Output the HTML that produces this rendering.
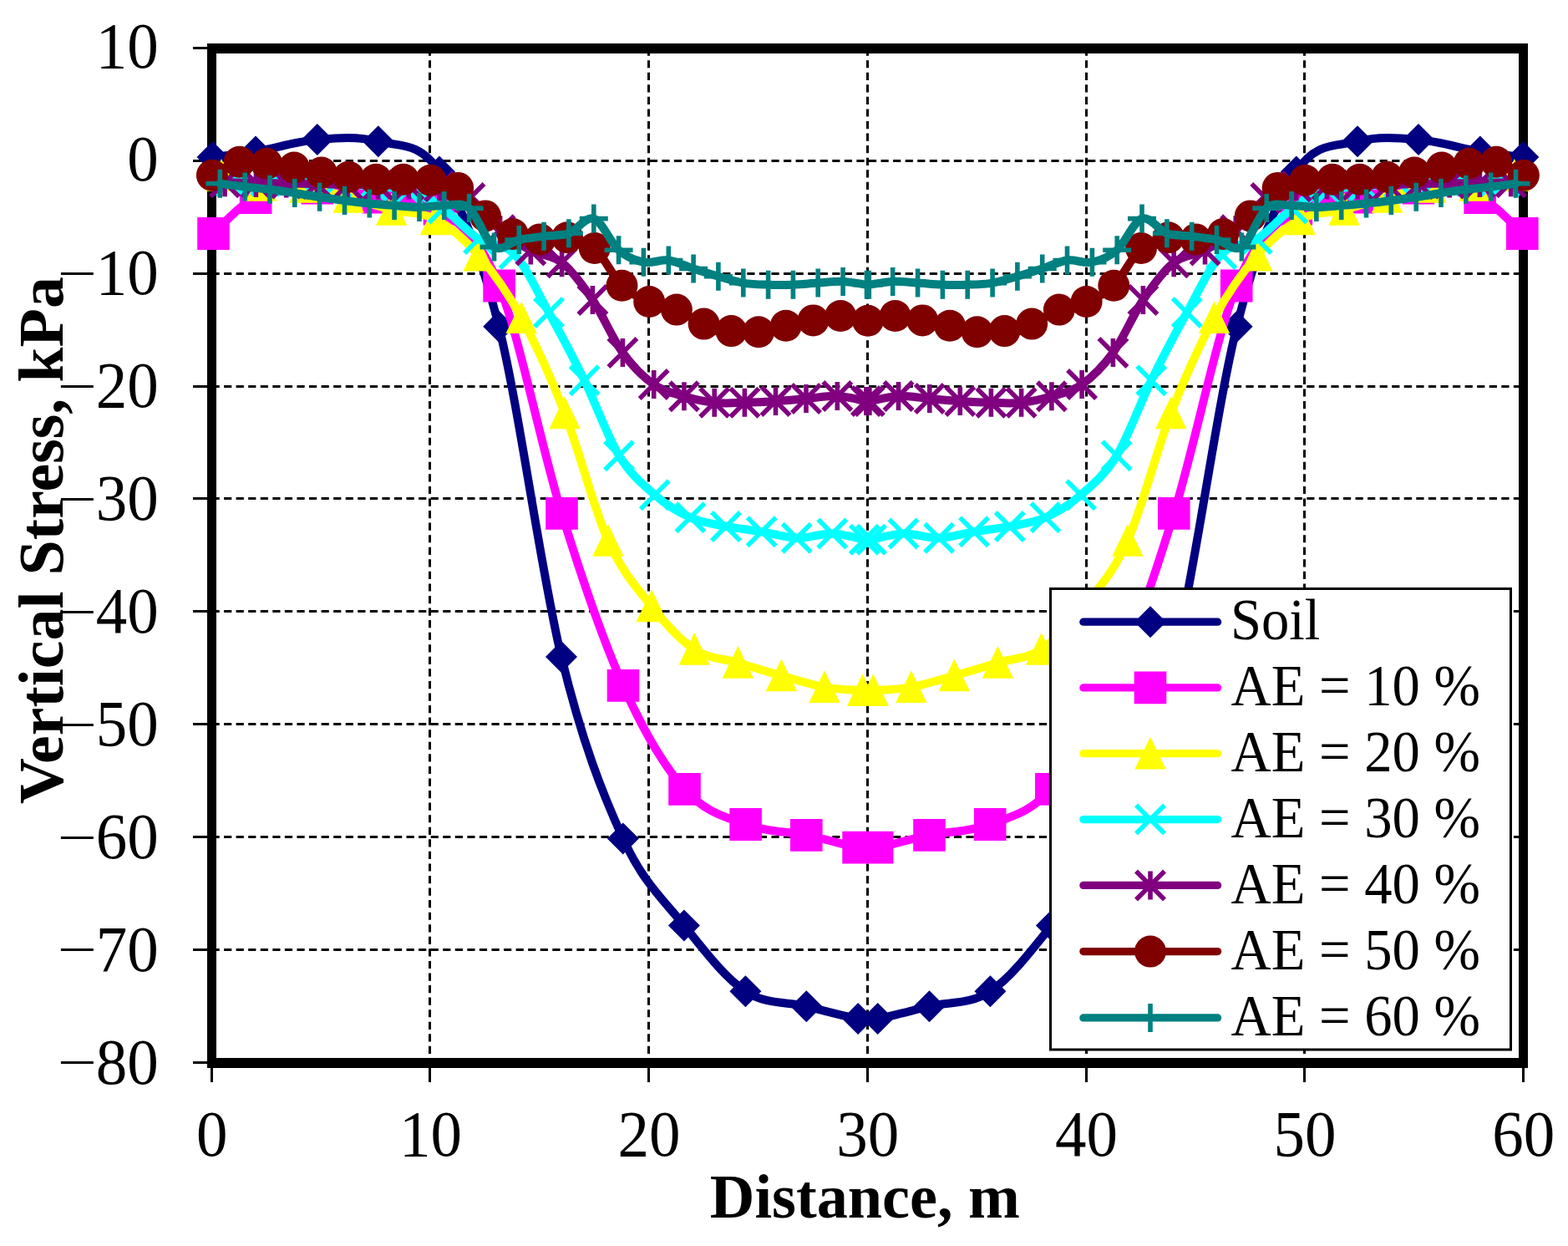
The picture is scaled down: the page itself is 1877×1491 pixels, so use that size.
<!DOCTYPE html>
<html lang="en"><head><meta charset="utf-8"><title>Vertical Stress vs Distance</title>
<style>html,body{margin:0;padding:0;background:#fff}body{width:1877px;height:1491px;overflow:hidden}svg{display:block}text{font-family:"Liberation Serif",serif;fill:#000}.t{font-size:75px}.b{font-size:75px;font-weight:bold}.l{font-size:69px}</style></head><body>
<svg width="1877" height="1491" viewBox="0 0 1877 1491" role="img" aria-label="Vertical stress versus distance chart">
<rect width="1877" height="1491" fill="#fff"/>
<path d="M514.5 57.6 V1272M776.5 57.6 V1272M1038.5 57.6 V1272M1300.5 57.6 V1272M1561.5 57.6 V1272M253.5 192.5 H1823.5M253.5 327.5 H1823.5M253.5 462.5 H1823.5M253.5 596.5 H1823.5M253.5 731.5 H1823.5M253.5 866.5 H1823.5M253.5 1001.5 H1823.5M253.5 1136.5 H1823.5" fill="none" stroke="#000" stroke-width="3" stroke-dasharray="9.2 5.364"/>
<path d="M253.5 1272 V1295M514.5 1272 V1295M776.5 1272 V1295M1038.5 1272 V1295M1300.5 1272 V1295M1561.5 1272 V1295M1823.5 1272 V1295M231 57.5 H253.5M231 192.5 H253.5M231 327.5 H253.5M231 462.5 H253.5M231 596.5 H253.5M231 731.5 H253.5M231 866.5 H253.5M231 1001.5 H253.5M231 1136.5 H253.5M231 1271.5 H253.5" fill="none" stroke="#000" stroke-width="3"/>
<path d="M248 52H1829V1278H248Z M259 64V1266H1818V64Z" fill="#000" fill-rule="evenodd"/>
<g fill="#000080" stroke="#000080">
<path d="M254.5 188C263.1 186.9 285.1 185 306 181.5C326.9 178 355.3 169.1 379.8 167C404.3 164.9 428.4 162.8 452.8 169.2C477.2 175.6 501.9 168.6 526 205.5C550.1 242.4 572.9 294.1 597.2 390.8C621.5 487.5 647.2 683.8 672 785.9C696.8 888 721.3 949.8 745.8 1003.4C770.3 1057 794.5 1076.9 818.9 1107.4C843.3 1137.9 868 1170.2 892.4 1186.3C916.8 1202.4 942.8 1198.7 965.3 1204.2C987.8 1209.7 1012.9 1216.6 1027.1 1219.1C1041.3 1221.6 1036.5 1221.6 1050.7 1219.1C1064.9 1216.6 1090.1 1209.7 1112.5 1204.2C1135 1198.7 1161 1202.4 1185.4 1186.3C1209.8 1170.2 1234.5 1137.9 1258.9 1107.4C1283.3 1076.9 1307.5 1057 1332 1003.4C1356.5 949.8 1381 888 1405.8 785.9C1430.6 683.8 1456.3 487.5 1480.6 390.8C1504.9 294.1 1527.7 242.4 1551.8 205.5C1575.9 168.6 1600.6 175.6 1625 169.2C1649.4 162.8 1673.5 164.9 1698 167C1722.5 169.1 1750.9 178 1771.8 181.5C1792.7 185 1814.7 186.9 1823.3 188" fill="none" stroke-width="10" stroke-linejoin="round" stroke-linecap="round"/>
<path d="M254.5 169l19 19l-19 19l-19 -19zM306 162.5l19 19l-19 19l-19 -19zM379.8 148l19 19l-19 19l-19 -19zM452.8 150.2l19 19l-19 19l-19 -19zM526 186.5l19 19l-19 19l-19 -19zM597.2 371.8l19 19l-19 19l-19 -19zM672 766.9l19 19l-19 19l-19 -19zM745.8 984.4l19 19l-19 19l-19 -19zM818.9 1088.4l19 19l-19 19l-19 -19zM892.4 1167.3l19 19l-19 19l-19 -19zM965.3 1185.2l19 19l-19 19l-19 -19zM1027.1 1200.1l19 19l-19 19l-19 -19zM1050.7 1200.1l19 19l-19 19l-19 -19zM1112.5 1185.2l19 19l-19 19l-19 -19zM1185.4 1167.3l19 19l-19 19l-19 -19zM1258.9 1088.4l19 19l-19 19l-19 -19zM1332 984.4l19 19l-19 19l-19 -19zM1405.8 766.9l19 19l-19 19l-19 -19zM1480.6 371.8l19 19l-19 19l-19 -19zM1551.8 186.5l19 19l-19 19l-19 -19zM1625 150.2l19 19l-19 19l-19 -19zM1698 148l19 19l-19 19l-19 -19zM1771.8 162.5l19 19l-19 19l-19 -19zM1823.3 169l19 19l-19 19l-19 -19z" stroke="none"/>
</g>
<g fill="#ff00ff" stroke="#ff00ff">
<path d="M255.5 279.5C263.9 272.3 285.4 245.6 306.1 236.5C326.8 227.4 355.4 225.1 379.8 225C404.2 224.9 428.4 232 452.8 236.2C477.2 240.4 501.9 232.4 526 250C550.1 267.6 573.2 281.3 597.6 342C622 402.7 647.8 534.7 672.5 614.4C697.2 694.1 721.5 765.4 746 820.4C770.5 875.4 795.1 916.7 819.5 944.4C843.9 972.1 868.3 977.3 892.6 986.5C916.9 995.7 942.8 994.8 965.3 999.4C987.8 1004 1013.4 1011.6 1027.6 1014.1C1041.8 1016.6 1036.1 1016.6 1050.2 1014.1C1064.4 1011.6 1090 1004 1112.5 999.4C1135 994.8 1160.9 995.7 1185.2 986.5C1209.5 977.3 1233.9 972.1 1258.3 944.4C1282.7 916.7 1307.3 875.4 1331.8 820.4C1356.3 765.4 1380.6 694.1 1405.3 614.4C1430 534.7 1455.8 402.7 1480.2 342C1504.6 281.3 1527.7 267.6 1551.8 250C1575.9 232.4 1600.6 240.4 1625 236.2C1649.4 232 1673.6 224.9 1698 225C1722.5 225.1 1751 227.4 1771.7 236.5C1792.4 245.6 1813.9 272.3 1822.3 279.5" fill="none" stroke-width="10" stroke-linejoin="round" stroke-linecap="round"/>
<path d="M236.2 260.1h38.6v38.8h-38.6zM286.8 217.1h38.6v38.8h-38.6zM360.5 205.6h38.6v38.8h-38.6zM433.5 216.8h38.6v38.8h-38.6zM506.7 230.6h38.6v38.8h-38.6zM578.3 322.6h38.6v38.8h-38.6zM653.2 595h38.6v38.8h-38.6zM726.7 801h38.6v38.8h-38.6zM800.2 925h38.6v38.8h-38.6zM873.3 967.1h38.6v38.8h-38.6zM946 980h38.6v38.8h-38.6zM1008.3 994.7h38.6v38.8h-38.6zM1030.9 994.7h38.6v38.8h-38.6zM1093.2 980h38.6v38.8h-38.6zM1165.9 967.1h38.6v38.8h-38.6zM1239 925h38.6v38.8h-38.6zM1312.5 801h38.6v38.8h-38.6zM1386 595h38.6v38.8h-38.6zM1460.9 322.6h38.6v38.8h-38.6zM1532.5 230.6h38.6v38.8h-38.6zM1605.7 216.8h38.6v38.8h-38.6zM1678.7 205.6h38.6v38.8h-38.6zM1752.4 217.1h38.6v38.8h-38.6zM1803 260.1h38.6v38.8h-38.6z" stroke="none"/>
</g>
<g fill="#ffff00" stroke="#ffff00">
<path d="M265 210C273 212 296.1 219.7 312.8 222C329.5 224.3 347.6 221.7 365 224C382.4 226.3 400 231.5 417.3 236C434.6 240.5 451.3 246.6 468.7 251C486.1 255.4 504.1 253.4 521.5 262.5C538.9 271.6 556 286.2 573.1 305.8C590.2 325.4 607 348.9 624.2 380.4C641.4 411.9 658.8 450.2 676.1 494.6C693.4 539 710.6 608.5 727.9 647C745.2 685.5 762.9 703.9 780.1 725.6C797.3 747.3 814 765.9 831.2 777.1C848.4 788.4 866 787.9 883.4 793.1C900.8 798.3 918.1 803.6 935.4 808.5C952.7 813.4 970.8 819.3 987 822.3C1003.2 825.2 1022.9 825.6 1032.6 826.2C1042.3 826.9 1035.5 826.9 1045.2 826.2C1054.9 825.6 1074.6 825.2 1090.8 822.3C1107 819.3 1125.1 813.4 1142.4 808.5C1159.7 803.6 1177 798.3 1194.4 793.1C1211.8 787.9 1229.4 788.4 1246.6 777.1C1263.8 765.9 1280.5 747.3 1297.7 725.6C1314.9 703.9 1332.6 685.5 1349.9 647C1367.2 608.5 1384.4 539 1401.7 494.6C1419 450.2 1436.4 411.9 1453.6 380.4C1470.8 348.9 1487.6 325.4 1504.7 305.8C1521.8 286.2 1538.9 271.6 1556.3 262.5C1573.7 253.4 1591.7 255.4 1609.1 251C1626.5 246.6 1643.2 240.5 1660.5 236C1677.8 231.5 1695.4 226.3 1712.8 224C1730.2 221.7 1748.3 224.3 1765 222C1781.7 219.7 1804.8 212 1812.8 210" fill="none" stroke-width="10" stroke-linejoin="round" stroke-linecap="round"/>
<path d="M265 190l18.7 38.7h-37.4zM312.8 202l18.7 38.7h-37.4zM365 204l18.7 38.7h-37.4zM417.3 216l18.7 38.7h-37.4zM468.7 231l18.7 38.7h-37.4zM521.5 242.5l18.7 38.7h-37.4zM573.1 285.8l18.7 38.7h-37.4zM624.2 360.4l18.7 38.7h-37.4zM676.1 474.6l18.7 38.7h-37.4zM727.9 627l18.7 38.7h-37.4zM780.1 705.6l18.7 38.7h-37.4zM831.2 757.1l18.7 38.7h-37.4zM883.4 773.1l18.7 38.7h-37.4zM935.4 788.5l18.7 38.7h-37.4zM987 802.3l18.7 38.7h-37.4zM1032.6 806.2l18.7 38.7h-37.4zM1045.2 806.2l18.7 38.7h-37.4zM1090.8 802.3l18.7 38.7h-37.4zM1142.4 788.5l18.7 38.7h-37.4zM1194.4 773.1l18.7 38.7h-37.4zM1246.6 757.1l18.7 38.7h-37.4zM1297.7 705.6l18.7 38.7h-37.4zM1349.9 627l18.7 38.7h-37.4zM1401.7 474.6l18.7 38.7h-37.4zM1453.6 360.4l18.7 38.7h-37.4zM1504.7 285.8l18.7 38.7h-37.4zM1556.3 242.5l18.7 38.7h-37.4zM1609.1 231l18.7 38.7h-37.4zM1660.5 216l18.7 38.7h-37.4zM1712.8 204l18.7 38.7h-37.4zM1765 202l18.7 38.7h-37.4zM1812.8 190l18.7 38.7h-37.4z" stroke="none"/>
</g>
<g fill="#00ffff" stroke="#00ffff">
<path d="M275.5 216.5C282.6 216.5 303.8 216.4 318 216.5C332.2 216.6 346.3 216.6 360.5 217C374.7 217.4 388.8 218 403 219C417.2 220 431.3 221.5 445.5 223C459.7 224.5 473.8 223.6 488 228C502.2 232.4 516.3 239.8 530.5 249.5C544.7 259.2 558.8 276.9 573 286C587.2 295.1 601.6 289.4 615.6 304.1C629.6 318.8 643 348.8 657 374C671 399.2 685.6 426.6 699.6 455.2C713.6 483.8 727.1 522.5 741.1 545.3C755.1 568.1 769.6 579.9 783.8 592.2C798 604.5 812.2 613 826.4 619.3C840.6 625.6 854.8 627.1 869 629.9C883.2 632.7 897.6 634 911.7 636.3C925.8 638.6 939.6 643.4 953.7 643.8C967.8 644.1 982.8 638.1 996.3 638.4C1009.8 638.7 1027.1 644.5 1034.8 645.7C1042.6 646.9 1035.2 646.9 1043 645.7C1050.7 644.5 1068 638.7 1081.5 638.4C1095 638.1 1110 644.1 1124.1 643.8C1138.2 643.4 1152 638.6 1166.1 636.3C1180.2 634 1194.6 632.7 1208.8 629.9C1223 627.1 1237.2 625.6 1251.4 619.3C1265.6 613 1279.8 604.5 1294 592.2C1308.2 579.9 1322.7 568.1 1336.7 545.3C1350.7 522.5 1364.2 483.8 1378.2 455.2C1392.2 426.6 1406.8 399.2 1420.8 374C1434.8 348.8 1448.2 318.8 1462.2 304.1C1476.2 289.4 1490.6 295.1 1504.8 286C1519 276.9 1533.1 259.2 1547.3 249.5C1561.5 239.8 1575.6 232.4 1589.8 228C1604 223.6 1618.1 224.5 1632.3 223C1646.5 221.5 1660.6 220 1674.8 219C1689 218 1703.1 217.4 1717.3 217C1731.5 216.6 1745.6 216.6 1759.8 216.5C1774 216.4 1795.2 216.5 1802.3 216.5" fill="none" stroke-width="10" stroke-linejoin="round" stroke-linecap="round"/>
<path d="M258.5 199.5l34 34m-34 0l34 -34M301 199.5l34 34m-34 0l34 -34M343.5 200l34 34m-34 0l34 -34M386 202l34 34m-34 0l34 -34M428.5 206l34 34m-34 0l34 -34M471 211l34 34m-34 0l34 -34M513.5 232.5l34 34m-34 0l34 -34M556 269l34 34m-34 0l34 -34M598.6 287.1l34 34m-34 0l34 -34M640 357l34 34m-34 0l34 -34M682.6 438.2l34 34m-34 0l34 -34M724.1 528.3l34 34m-34 0l34 -34M766.8 575.2l34 34m-34 0l34 -34M809.4 602.3l34 34m-34 0l34 -34M852 612.9l34 34m-34 0l34 -34M894.7 619.3l34 34m-34 0l34 -34M936.7 626.8l34 34m-34 0l34 -34M979.3 621.4l34 34m-34 0l34 -34M1017.8 628.7l34 34m-34 0l34 -34M1026 628.7l34 34m-34 0l34 -34M1064.5 621.4l34 34m-34 0l34 -34M1107.1 626.8l34 34m-34 0l34 -34M1149.1 619.3l34 34m-34 0l34 -34M1191.8 612.9l34 34m-34 0l34 -34M1234.4 602.3l34 34m-34 0l34 -34M1277 575.2l34 34m-34 0l34 -34M1319.7 528.3l34 34m-34 0l34 -34M1361.2 438.2l34 34m-34 0l34 -34M1403.8 357l34 34m-34 0l34 -34M1445.2 287.1l34 34m-34 0l34 -34M1487.8 269l34 34m-34 0l34 -34M1530.3 232.5l34 34m-34 0l34 -34M1572.8 211l34 34m-34 0l34 -34M1615.3 206l34 34m-34 0l34 -34M1657.8 202l34 34m-34 0l34 -34M1700.3 200l34 34m-34 0l34 -34M1742.8 199.5l34 34m-34 0l34 -34M1785.3 199.5l34 34m-34 0l34 -34" fill="none" stroke-width="5.6"/>
</g>
<g fill="#800080" stroke="#800080">
<path d="M269.1 218.2C275.3 218.3 294.1 218.8 306.4 219C318.6 219.2 330.5 219.3 342.6 219.5C354.8 219.7 367.1 219.8 379.3 220C391.5 220.2 403.8 220.8 416 221C428.2 221.2 440.4 221.4 452.6 221.5C464.8 221.6 477.1 221.2 489.3 221.5C501.5 221.8 513.8 220.7 526 223.3C538.2 225.9 550.4 228.3 562.5 237C574.6 245.7 586.5 264.8 598.6 275.2C610.7 285.6 623 293 635.3 299.5C647.6 306 660.2 304.3 672.6 314.2C685 324.1 697.3 340.9 709.4 358.9C721.5 376.9 733.2 405.1 745.4 422C757.6 438.9 770.5 451.4 782.7 460.1C795 468.8 806.8 470.7 818.9 474.3C831 477.9 843.1 480.6 855.2 481.8C867.3 483.1 879.2 482.1 891.4 481.8C903.6 481.5 916.2 480.8 928.5 480C940.8 479.2 952.7 478.1 965 477.1C977.3 476.1 990.3 473.4 1002.3 473.9C1014.3 474.4 1030.5 479 1036.9 480C1043.3 481 1034.5 481 1040.9 480C1047.3 479 1063.5 474.4 1075.5 473.9C1087.5 473.4 1100.5 476.1 1112.8 477.1C1125.1 478.1 1137 479.2 1149.3 480C1161.6 480.8 1174.2 481.5 1186.4 481.8C1198.6 482.1 1210.5 483.1 1222.6 481.8C1234.7 480.6 1246.8 477.9 1258.9 474.3C1271 470.7 1282.9 468.8 1295.1 460.1C1307.4 451.4 1320.2 438.9 1332.4 422C1344.6 405.1 1356.3 376.9 1368.4 358.9C1380.5 340.9 1392.9 324.1 1405.2 314.2C1417.6 304.3 1430.2 306 1442.5 299.5C1454.8 293 1467.1 285.6 1479.2 275.2C1491.3 264.8 1503.2 245.7 1515.3 237C1527.4 228.3 1539.6 225.9 1551.8 223.3C1564 220.7 1576.3 221.8 1588.5 221.5C1600.7 221.2 1613 221.6 1625.2 221.5C1637.4 221.4 1649.6 221.2 1661.8 221C1674 220.8 1686.3 220.2 1698.5 220C1710.7 219.8 1723.1 219.7 1735.2 219.5C1747.4 219.3 1759.2 219.2 1771.4 219C1783.7 218.8 1802.5 218.3 1808.7 218.2" fill="none" stroke-width="10" stroke-linejoin="round" stroke-linecap="round"/>
<path d="M252.1 201.2l34 34m-34 0l34 -34m-17 0v34M289.4 202l34 34m-34 0l34 -34m-17 0v34M325.6 202.5l34 34m-34 0l34 -34m-17 0v34M362.3 203l34 34m-34 0l34 -34m-17 0v34M399 204l34 34m-34 0l34 -34m-17 0v34M435.6 204.5l34 34m-34 0l34 -34m-17 0v34M472.3 204.5l34 34m-34 0l34 -34m-17 0v34M509 206.3l34 34m-34 0l34 -34m-17 0v34M545.5 220l34 34m-34 0l34 -34m-17 0v34M581.6 258.2l34 34m-34 0l34 -34m-17 0v34M618.3 282.5l34 34m-34 0l34 -34m-17 0v34M655.6 297.2l34 34m-34 0l34 -34m-17 0v34M692.4 341.9l34 34m-34 0l34 -34m-17 0v34M728.4 405l34 34m-34 0l34 -34m-17 0v34M765.7 443.1l34 34m-34 0l34 -34m-17 0v34M801.9 457.3l34 34m-34 0l34 -34m-17 0v34M838.2 464.8l34 34m-34 0l34 -34m-17 0v34M874.4 464.8l34 34m-34 0l34 -34m-17 0v34M911.5 463l34 34m-34 0l34 -34m-17 0v34M948 460.1l34 34m-34 0l34 -34m-17 0v34M985.3 456.9l34 34m-34 0l34 -34m-17 0v34M1019.9 463l34 34m-34 0l34 -34m-17 0v34M1023.9 463l34 34m-34 0l34 -34m-17 0v34M1058.5 456.9l34 34m-34 0l34 -34m-17 0v34M1095.8 460.1l34 34m-34 0l34 -34m-17 0v34M1132.3 463l34 34m-34 0l34 -34m-17 0v34M1169.4 464.8l34 34m-34 0l34 -34m-17 0v34M1205.6 464.8l34 34m-34 0l34 -34m-17 0v34M1241.9 457.3l34 34m-34 0l34 -34m-17 0v34M1278.1 443.1l34 34m-34 0l34 -34m-17 0v34M1315.4 405l34 34m-34 0l34 -34m-17 0v34M1351.4 341.9l34 34m-34 0l34 -34m-17 0v34M1388.2 297.2l34 34m-34 0l34 -34m-17 0v34M1425.5 282.5l34 34m-34 0l34 -34m-17 0v34M1462.2 258.2l34 34m-34 0l34 -34m-17 0v34M1498.3 220l34 34m-34 0l34 -34m-17 0v34M1534.8 206.3l34 34m-34 0l34 -34m-17 0v34M1571.5 204.5l34 34m-34 0l34 -34m-17 0v34M1608.2 204.5l34 34m-34 0l34 -34m-17 0v34M1644.8 204l34 34m-34 0l34 -34m-17 0v34M1681.5 203l34 34m-34 0l34 -34m-17 0v34M1718.2 202.5l34 34m-34 0l34 -34m-17 0v34M1754.4 202l34 34m-34 0l34 -34m-17 0v34M1791.7 201.2l34 34m-34 0l34 -34m-17 0v34" fill="none" stroke-width="5.6"/>
</g>
<g fill="#800000" stroke="#800000">
<path d="M253.9 209.7C259.3 207 275.7 196 286.6 193.7C297.5 191.4 308.4 194.7 319.3 195.8C330.2 197 341.1 198.8 352 200.6C362.9 202.4 373.8 204.6 384.7 206.5C395.6 208.4 406.5 210.4 417.4 211.8C428.3 213.2 439.2 214.3 450.1 214.8C461 215.3 471.9 214.6 482.8 214.8C493.7 215 504.6 214.1 515.5 215.8C526.4 217.5 537.3 217.8 548.2 224.9C559.2 232 570.1 249.2 581 258.4C591.9 267.6 602.8 275.3 613.7 280C624.6 284.7 635.5 285.7 646.4 286.4C657.3 287.1 668.2 282.5 679.1 284.3C690 286.1 700.9 287.4 711.8 297C722.7 306.6 733.6 331.1 744.5 341.8C755.4 352.5 766.3 356.2 777.2 361C788.1 365.8 799 366.2 809.9 370.6C820.8 375 831.7 383.4 842.6 387.6C853.5 391.9 864.4 394.5 875.4 396.1C886.3 397.7 897.2 398.2 908.1 397.2C919 396.1 929.9 392.1 940.8 389.8C951.7 387.5 962.6 385.4 973.5 383.4C984.4 381.4 995.3 377.9 1006.2 378C1017.1 378.1 1028 383.8 1038.9 383.8C1049.8 383.8 1060.7 378.1 1071.6 378C1082.5 377.9 1093.4 381.4 1104.3 383.4C1115.2 385.4 1126.1 387.5 1137 389.8C1147.9 392.1 1158.8 396.1 1169.7 397.2C1180.6 398.2 1191.5 397.7 1202.5 396.1C1213.4 394.5 1224.3 391.9 1235.2 387.6C1246.1 383.4 1257 375 1267.9 370.6C1278.8 366.2 1289.7 365.8 1300.6 361C1311.5 356.2 1322.4 352.5 1333.3 341.8C1344.2 331.1 1355.1 306.6 1366 297C1376.9 287.4 1387.8 286.1 1398.7 284.3C1409.6 282.5 1420.5 287.1 1431.4 286.4C1442.3 285.7 1453.2 284.7 1464.1 280C1475 275.3 1485.9 267.6 1496.8 258.4C1507.7 249.2 1518.6 232 1529.6 224.9C1540.5 217.8 1551.4 217.5 1562.3 215.8C1573.2 214.1 1584.1 215 1595 214.8C1605.9 214.6 1616.8 215.3 1627.7 214.8C1638.6 214.3 1649.5 213.2 1660.4 211.8C1671.3 210.4 1682.2 208.4 1693.1 206.5C1704 204.6 1714.9 202.4 1725.8 200.6C1736.7 198.8 1747.6 197 1758.5 195.8C1769.4 194.7 1780.3 191.4 1791.2 193.7C1802.1 196 1818.5 207 1823.9 209.7" fill="none" stroke-width="10" stroke-linejoin="round" stroke-linecap="round"/>
<path d="M234.9 209.7a19 19 0 1 0 38 0a19 19 0 1 0 -38 0zM267.6 193.7a19 19 0 1 0 38 0a19 19 0 1 0 -38 0zM300.3 195.8a19 19 0 1 0 38 0a19 19 0 1 0 -38 0zM333 200.6a19 19 0 1 0 38 0a19 19 0 1 0 -38 0zM365.7 206.5a19 19 0 1 0 38 0a19 19 0 1 0 -38 0zM398.4 211.8a19 19 0 1 0 38 0a19 19 0 1 0 -38 0zM431.1 214.8a19 19 0 1 0 38 0a19 19 0 1 0 -38 0zM463.8 214.8a19 19 0 1 0 38 0a19 19 0 1 0 -38 0zM496.5 215.8a19 19 0 1 0 38 0a19 19 0 1 0 -38 0zM529.2 224.9a19 19 0 1 0 38 0a19 19 0 1 0 -38 0zM562 258.4a19 19 0 1 0 38 0a19 19 0 1 0 -38 0zM594.7 280a19 19 0 1 0 38 0a19 19 0 1 0 -38 0zM627.4 286.4a19 19 0 1 0 38 0a19 19 0 1 0 -38 0zM660.1 284.3a19 19 0 1 0 38 0a19 19 0 1 0 -38 0zM692.8 297a19 19 0 1 0 38 0a19 19 0 1 0 -38 0zM725.5 341.8a19 19 0 1 0 38 0a19 19 0 1 0 -38 0zM758.2 361a19 19 0 1 0 38 0a19 19 0 1 0 -38 0zM790.9 370.6a19 19 0 1 0 38 0a19 19 0 1 0 -38 0zM823.6 387.6a19 19 0 1 0 38 0a19 19 0 1 0 -38 0zM856.4 396.1a19 19 0 1 0 38 0a19 19 0 1 0 -38 0zM889.1 397.2a19 19 0 1 0 38 0a19 19 0 1 0 -38 0zM921.8 389.8a19 19 0 1 0 38 0a19 19 0 1 0 -38 0zM954.5 383.4a19 19 0 1 0 38 0a19 19 0 1 0 -38 0zM987.2 378a19 19 0 1 0 38 0a19 19 0 1 0 -38 0zM1019.9 383.8a19 19 0 1 0 38 0a19 19 0 1 0 -38 0zM1052.6 378a19 19 0 1 0 38 0a19 19 0 1 0 -38 0zM1085.3 383.4a19 19 0 1 0 38 0a19 19 0 1 0 -38 0zM1118 389.8a19 19 0 1 0 38 0a19 19 0 1 0 -38 0zM1150.7 397.2a19 19 0 1 0 38 0a19 19 0 1 0 -38 0zM1183.5 396.1a19 19 0 1 0 38 0a19 19 0 1 0 -38 0zM1216.2 387.6a19 19 0 1 0 38 0a19 19 0 1 0 -38 0zM1248.9 370.6a19 19 0 1 0 38 0a19 19 0 1 0 -38 0zM1281.6 361a19 19 0 1 0 38 0a19 19 0 1 0 -38 0zM1314.3 341.8a19 19 0 1 0 38 0a19 19 0 1 0 -38 0zM1347 297a19 19 0 1 0 38 0a19 19 0 1 0 -38 0zM1379.7 284.3a19 19 0 1 0 38 0a19 19 0 1 0 -38 0zM1412.4 286.4a19 19 0 1 0 38 0a19 19 0 1 0 -38 0zM1445.1 280a19 19 0 1 0 38 0a19 19 0 1 0 -38 0zM1477.8 258.4a19 19 0 1 0 38 0a19 19 0 1 0 -38 0zM1510.6 224.9a19 19 0 1 0 38 0a19 19 0 1 0 -38 0zM1543.3 215.8a19 19 0 1 0 38 0a19 19 0 1 0 -38 0zM1576 214.8a19 19 0 1 0 38 0a19 19 0 1 0 -38 0zM1608.7 214.8a19 19 0 1 0 38 0a19 19 0 1 0 -38 0zM1641.4 211.8a19 19 0 1 0 38 0a19 19 0 1 0 -38 0zM1674.1 206.5a19 19 0 1 0 38 0a19 19 0 1 0 -38 0zM1706.8 200.6a19 19 0 1 0 38 0a19 19 0 1 0 -38 0zM1739.5 195.8a19 19 0 1 0 38 0a19 19 0 1 0 -38 0zM1772.2 193.7a19 19 0 1 0 38 0a19 19 0 1 0 -38 0zM1804.9 209.7a19 19 0 1 0 38 0a19 19 0 1 0 -38 0z" stroke="none"/>
</g>
<g fill="#008080" stroke="#008080">
<path d="M263.3 219.8C268.3 220.4 283.2 222.3 293.2 223.5C303.1 224.7 313 225.4 323 226.7C332.9 227.9 342.9 229.5 352.8 231C362.8 232.5 372.7 234.3 382.6 235.8C392.6 237.3 402.5 238.7 412.5 240C422.4 241.3 432.4 242.5 442.3 243.5C452.2 244.5 462.2 245.2 472.1 245.9C482.1 246.7 492 248 502 248C511.9 248 521.8 245.7 531.8 245.9C541.7 246.1 551.7 240.8 561.6 249.1C571.6 257.4 581.5 289.3 591.5 295.6C601.4 301.9 611.3 289.1 621.3 287C631.2 284.9 641.2 284 651.1 282.7C661.1 281.4 671 282.8 680.9 279.3C690.9 275.8 700.8 258.3 710.8 261.6C720.7 264.9 730.7 290.5 740.6 299.2C750.5 307.9 760.5 311.6 770.4 313.7C780.4 315.8 790.3 310.2 800.3 311.5C810.2 312.8 820.1 318.3 830.1 321.5C840 324.7 850 327.8 859.9 330.7C869.9 333.6 879.8 336.9 889.8 338.6C899.7 340.3 909.6 340.4 919.6 340.7C929.5 341 939.5 341 949.4 340.7C959.4 340.4 969.3 339.2 979.2 338.6C989.2 338 999.4 336.5 1009.1 336.9C1018.8 337.2 1032.3 340.1 1037.5 340.7C1042.7 341.3 1035.1 341.3 1040.3 340.7C1045.5 340.1 1059 337.2 1068.7 336.9C1078.4 336.5 1088.6 338 1098.6 338.6C1108.5 339.2 1118.4 340.4 1128.4 340.7C1138.3 341 1148.3 341 1158.2 340.7C1168.2 340.4 1178.1 340.3 1188.1 338.6C1198 336.9 1207.9 333.6 1217.9 330.7C1227.8 327.8 1237.8 324.7 1247.7 321.5C1257.7 318.3 1267.6 312.8 1277.5 311.5C1287.5 310.2 1297.4 315.8 1307.4 313.7C1317.3 311.6 1327.3 307.9 1337.2 299.2C1347.1 290.5 1357.1 264.9 1367 261.6C1377 258.3 1386.9 275.8 1396.9 279.3C1406.8 282.8 1416.7 281.4 1426.7 282.7C1436.6 284 1446.6 284.9 1456.5 287C1466.5 289.1 1476.4 301.9 1486.4 295.6C1496.3 289.3 1506.2 257.4 1516.2 249.1C1526.1 240.8 1536.1 246.1 1546 245.9C1556 245.7 1565.9 248 1575.8 248C1585.8 248 1595.7 246.7 1605.7 245.9C1615.6 245.2 1625.6 244.5 1635.5 243.5C1645.4 242.5 1655.4 241.3 1665.3 240C1675.3 238.7 1685.2 237.3 1695.2 235.8C1705.1 234.3 1715 232.5 1725 231C1734.9 229.5 1744.9 227.9 1754.8 226.7C1764.8 225.4 1774.7 224.7 1784.7 223.5C1794.6 222.3 1809.5 220.4 1814.5 219.8" fill="none" stroke-width="10" stroke-linejoin="round" stroke-linecap="round"/>
<path d="M246.3 219.8h34m-17 -17v34M276.2 223.5h34m-17 -17v34M306 226.7h34m-17 -17v34M335.8 231h34m-17 -17v34M365.6 235.8h34m-17 -17v34M395.5 240h34m-17 -17v34M425.3 243.5h34m-17 -17v34M455.1 245.9h34m-17 -17v34M485 248h34m-17 -17v34M514.8 245.9h34m-17 -17v34M544.6 249.1h34m-17 -17v34M574.5 295.6h34m-17 -17v34M604.3 287h34m-17 -17v34M634.1 282.7h34m-17 -17v34M663.9 279.3h34m-17 -17v34M693.8 261.6h34m-17 -17v34M723.6 299.2h34m-17 -17v34M753.4 313.7h34m-17 -17v34M783.3 311.5h34m-17 -17v34M813.1 321.5h34m-17 -17v34M842.9 330.7h34m-17 -17v34M872.8 338.6h34m-17 -17v34M902.6 340.7h34m-17 -17v34M932.4 340.7h34m-17 -17v34M962.2 338.6h34m-17 -17v34M992.1 336.9h34m-17 -17v34M1020.5 340.7h34m-17 -17v34M1023.3 340.7h34m-17 -17v34M1051.7 336.9h34m-17 -17v34M1081.6 338.6h34m-17 -17v34M1111.4 340.7h34m-17 -17v34M1141.2 340.7h34m-17 -17v34M1171.1 338.6h34m-17 -17v34M1200.9 330.7h34m-17 -17v34M1230.7 321.5h34m-17 -17v34M1260.5 311.5h34m-17 -17v34M1290.4 313.7h34m-17 -17v34M1320.2 299.2h34m-17 -17v34M1350 261.6h34m-17 -17v34M1379.9 279.3h34m-17 -17v34M1409.7 282.7h34m-17 -17v34M1439.5 287h34m-17 -17v34M1469.4 295.6h34m-17 -17v34M1499.2 249.1h34m-17 -17v34M1529 245.9h34m-17 -17v34M1558.8 248h34m-17 -17v34M1588.7 245.9h34m-17 -17v34M1618.5 243.5h34m-17 -17v34M1648.3 240h34m-17 -17v34M1678.2 235.8h34m-17 -17v34M1708 231h34m-17 -17v34M1737.8 226.7h34m-17 -17v34M1767.7 223.5h34m-17 -17v34M1797.5 219.8h34m-17 -17v34" fill="none" stroke-width="5.6"/>
</g>
<rect x="1257.5" y="704.5" width="551" height="551.5" fill="#fff" stroke="#000" stroke-width="3"/>
<g fill="#000080" stroke="#000080">
<path d="M1296.8 744.2 H1457.6" fill="none" stroke-width="9.2" stroke-linecap="round"/>
<path d="M1377 725.2l19 19l-19 19l-19 -19z" stroke="none"/>
</g>
<text class="l" transform="translate(1473 765.4) scale(0.965 1)" id="lg0">Soil</text>
<g fill="#ff00ff" stroke="#ff00ff">
<path d="M1296.8 822.9 H1457.6" fill="none" stroke-width="9.2" stroke-linecap="round"/>
<path d="M1357.7 803.5h38.6v38.8h-38.6z" stroke="none"/>
</g>
<text class="l" transform="translate(1473.6 844.1) scale(0.965 1)" id="lg1">AE = 10 %</text>
<g fill="#ffff00" stroke="#ffff00">
<path d="M1296.8 901.7 H1457.6" fill="none" stroke-width="9.2" stroke-linecap="round"/>
<path d="M1377 881.7l18.7 38.7h-37.4z" stroke="none"/>
</g>
<text class="l" transform="translate(1473.6 922.9) scale(0.965 1)" id="lg2">AE = 20 %</text>
<g fill="#00ffff" stroke="#00ffff">
<path d="M1296.8 980.6 H1457.6" fill="none" stroke-width="9.2" stroke-linecap="round"/>
<path d="M1360 963.6l34 34m-34 0l34 -34" fill="none" stroke-width="5.6"/>
</g>
<text class="l" transform="translate(1473.6 1001.8) scale(0.965 1)" id="lg3">AE = 30 %</text>
<g fill="#800080" stroke="#800080">
<path d="M1296.8 1059.4 H1457.6" fill="none" stroke-width="9.2" stroke-linecap="round"/>
<path d="M1360 1042.4l34 34m-34 0l34 -34m-17 0v34" fill="none" stroke-width="5.6"/>
</g>
<text class="l" transform="translate(1473.6 1080.6) scale(0.965 1)" id="lg4">AE = 40 %</text>
<g fill="#800000" stroke="#800000">
<path d="M1296.8 1138.6 H1457.6" fill="none" stroke-width="9.2" stroke-linecap="round"/>
<path d="M1358 1138.6a19 19 0 1 0 38 0a19 19 0 1 0 -38 0z" stroke="none"/>
</g>
<text class="l" transform="translate(1473.6 1159.8) scale(0.965 1)" id="lg5">AE = 50 %</text>
<g fill="#008080" stroke="#008080">
<path d="M1296.8 1217.9 H1457.6" fill="none" stroke-width="9.2" stroke-linecap="round"/>
<path d="M1360 1217.9h34m-17 -17v34" fill="none" stroke-width="5.6"/>
</g>
<text class="l" transform="translate(1473.6 1239.1) scale(0.965 1)" id="lg6">AE = 60 %</text>
<text class="t" transform="translate(189.8 80.6) scale(1 1.03)" text-anchor="end">10</text>
<text class="t" transform="translate(189.8 215.5) scale(1 1.03)" text-anchor="end">0</text>
<text class="t" transform="translate(0 352.4) scale(1 1.03)"><tspan x="68.8" dy="-4.1" font-size="60" textLength="47.2" lengthAdjust="spacingAndGlyphs">−</tspan><tspan x="114.8" dy="4.1">10</tspan></text>
<text class="t" transform="translate(0 487.3) scale(1 1.03)"><tspan x="68.8" dy="-4.1" font-size="60" textLength="47.2" lengthAdjust="spacingAndGlyphs">−</tspan><tspan x="114.8" dy="4.1">20</tspan></text>
<text class="t" transform="translate(0 622.2) scale(1 1.03)"><tspan x="68.8" dy="-4.1" font-size="60" textLength="47.2" lengthAdjust="spacingAndGlyphs">−</tspan><tspan x="114.8" dy="4.1">30</tspan></text>
<text class="t" transform="translate(0 757) scale(1 1.03)"><tspan x="68.8" dy="-4.1" font-size="60" textLength="47.2" lengthAdjust="spacingAndGlyphs">−</tspan><tspan x="114.8" dy="4.1">40</tspan></text>
<text class="t" transform="translate(0 891.9) scale(1 1.03)"><tspan x="68.8" dy="-4.1" font-size="60" textLength="47.2" lengthAdjust="spacingAndGlyphs">−</tspan><tspan x="114.8" dy="4.1">50</tspan></text>
<text class="t" transform="translate(0 1026.8) scale(1 1.03)"><tspan x="68.8" dy="-4.1" font-size="60" textLength="47.2" lengthAdjust="spacingAndGlyphs">−</tspan><tspan x="114.8" dy="4.1">60</tspan></text>
<text class="t" transform="translate(0 1161.7) scale(1 1.03)"><tspan x="68.8" dy="-4.1" font-size="60" textLength="47.2" lengthAdjust="spacingAndGlyphs">−</tspan><tspan x="114.8" dy="4.1">70</tspan></text>
<text class="t" transform="translate(0 1296.6) scale(1 1.03)"><tspan x="68.8" dy="-4.1" font-size="60" textLength="47.2" lengthAdjust="spacingAndGlyphs">−</tspan><tspan x="114.8" dy="4.1">80</tspan></text>
<text class="t" transform="translate(253.7 1382.5) scale(1 1.03)" text-anchor="middle">0</text>
<text class="t" transform="translate(515.4 1382.5) scale(1 1.03)" text-anchor="middle">10</text>
<text class="t" transform="translate(777 1382.5) scale(1 1.03)" text-anchor="middle">20</text>
<text class="t" transform="translate(1038.7 1382.5) scale(1 1.03)" text-anchor="middle">30</text>
<text class="t" transform="translate(1300.4 1382.5) scale(1 1.03)" text-anchor="middle">40</text>
<text class="t" transform="translate(1562 1382.5) scale(1 1.03)" text-anchor="middle">50</text>
<text class="t" transform="translate(1823.7 1382.5) scale(1 1.03)" text-anchor="middle">60</text>
<text class="b" transform="translate(1035.4 1457) scale(0.99 1)" text-anchor="middle" id="xt">Distance, m</text>
<text class="b" transform="translate(75.2 646.5) rotate(-90) scale(1.013 1.02)" text-anchor="middle" id="yt">Vertical Stress, kPa</text>
</svg></body></html>
